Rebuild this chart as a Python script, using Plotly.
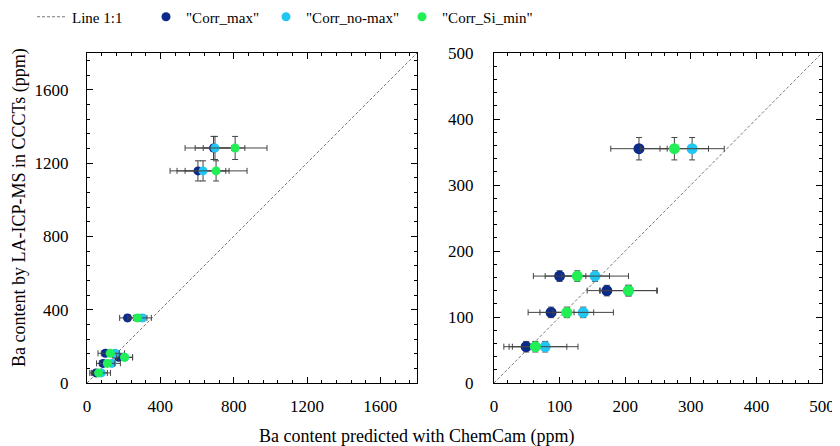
import plotly.graph_objects as go

# Ba content by LA-ICP-MS (ppm), one value per sample, with its error
icp_ba = [55, 107, 140, 162, 355, 1157, 1282]
icp_err = [8, 8, 8, 8, 17, 55, 63]

# ChemCam predictions (ppm) for each correction, with errors
corr_max = [49, 87, 172, 100, 221, 605, 690]
corr_max_err = [26, 35, 30, 40, 43, 152, 100]
corr_nomax = [78, 136, 205, 154, 302, 633, 698]
corr_nomax_err = [50, 46, 44, 51, 49, 142, 163]
corr_simin = [63, 111, 205, 127, 275, 704, 808]
corr_simin_err = [48, 41, 43, 49, 52, 169, 174]

series = [
    ('"Corr_max"', corr_max, corr_max_err, "#0c2a8a", "legend2"),
    ('"Corr_no-max"', corr_nomax, corr_nomax_err, "#22c6f2", "legend3"),
    ('"Corr_Si_min"', corr_simin, corr_simin_err, "#22ee55", "legend4"),
]

FONT = "Liberation Serif"
W, H = 840, 446
OFF = 8  # the page body margin shifts the figure by 8 px


def px(x):
    return (x - OFF) / W


def py(y):
    return 1 - (y - OFF) / H


fig = go.Figure()

panels = [("x", "y", 1800, 9), ("x2", "y2", 500, 11)]
for i, (xa, ya, top, msize) in enumerate(panels):
    fig.add_trace(go.Scatter(
        x=[0, top], y=[0, top], mode="lines", name="Line 1:1",
        line=dict(color="#777777", width=1, dash="3px,2px"),
        xaxis=xa, yaxis=ya, showlegend=(i == 0), legend="legend"))
    for name, xs, xerr, col, leg in series:
        fig.add_trace(go.Scatter(
            x=xs, y=icp_ba, mode="markers", name=name,
            marker=dict(color=col, size=msize),
            error_x=dict(type="data", array=xerr, color="#444", thickness=1, width=3),
            error_y=dict(type="data", array=icp_err, color="#444", thickness=1, width=3),
            xaxis=xa, yaxis=ya, showlegend=(i == 0), legend=leg))

ydom = [py(383), py(53)]
axis_common = dict(
    showgrid=False, zeroline=False, showline=True, linecolor="black", linewidth=1,
    mirror="ticks", ticks="inside", ticklen=6, tickcolor="black",
    tickfont=dict(family=FONT, size=17, color="black"),
)

fig.update_layout(
    xaxis=dict(axis_common, domain=[px(87), px(417)], range=[0, 1800], dtick=400,
               minor=dict(dtick=80, ticks="inside", ticklen=3, tickcolor="black"),
               ticklabelstandoff=8),
    yaxis=dict(axis_common, domain=ydom, range=[0, 1800], dtick=400,
               minor=dict(dtick=80, ticks="inside", ticklen=3, tickcolor="black"),
               ticklabelstandoff=14),
    xaxis2=dict(axis_common, domain=[px(494), px(822)], range=[0, 500], dtick=100,
                minor=dict(dtick=20, ticks="inside", ticklen=3, tickcolor="black"),
                ticklabelstandoff=8, anchor="y2"),
    yaxis2=dict(axis_common, domain=ydom, range=[0, 500], dtick=100,
                minor=dict(dtick=20, ticks="inside", ticklen=3, tickcolor="black"),
                ticklabelstandoff=16, anchor="x2"),
    width=W, height=H,
    margin=dict(l=0, r=0, t=0, b=0, autoexpand=False),
    paper_bgcolor="white", plot_bgcolor="white",
    font=dict(family=FONT, size=15, color="black"),
)

leg_x = [24 + OFF, 138 + OFF, 258 + OFF, 394 + OFF]
for name, x in zip(["legend", "legend2", "legend3", "legend4"], leg_x):
    fig.update_layout({name: dict(x=px(x), y=py(17), xanchor="left", yanchor="middle",
                                  orientation="h", bgcolor="rgba(0,0,0,0)",
                                  font=dict(family=FONT, size=15, color="black"))})

fig.add_annotation(text="Ba content predicted with ChemCam (ppm)", x=px(416), y=py(436),
                   xref="paper", yref="paper", showarrow=False,
                   xanchor="center", yanchor="middle",
                   font=dict(family=FONT, size=18, color="black"))
fig.add_annotation(text="Ba content by LA-ICP-MS in CCCTs (ppm)", x=px(20), y=py(208),
                   xref="paper", yref="paper", showarrow=False, textangle=-90,
                   xanchor="center", yanchor="middle",
                   font=dict(family=FONT, size=18, color="black"))

fig.write_html("out.html")
